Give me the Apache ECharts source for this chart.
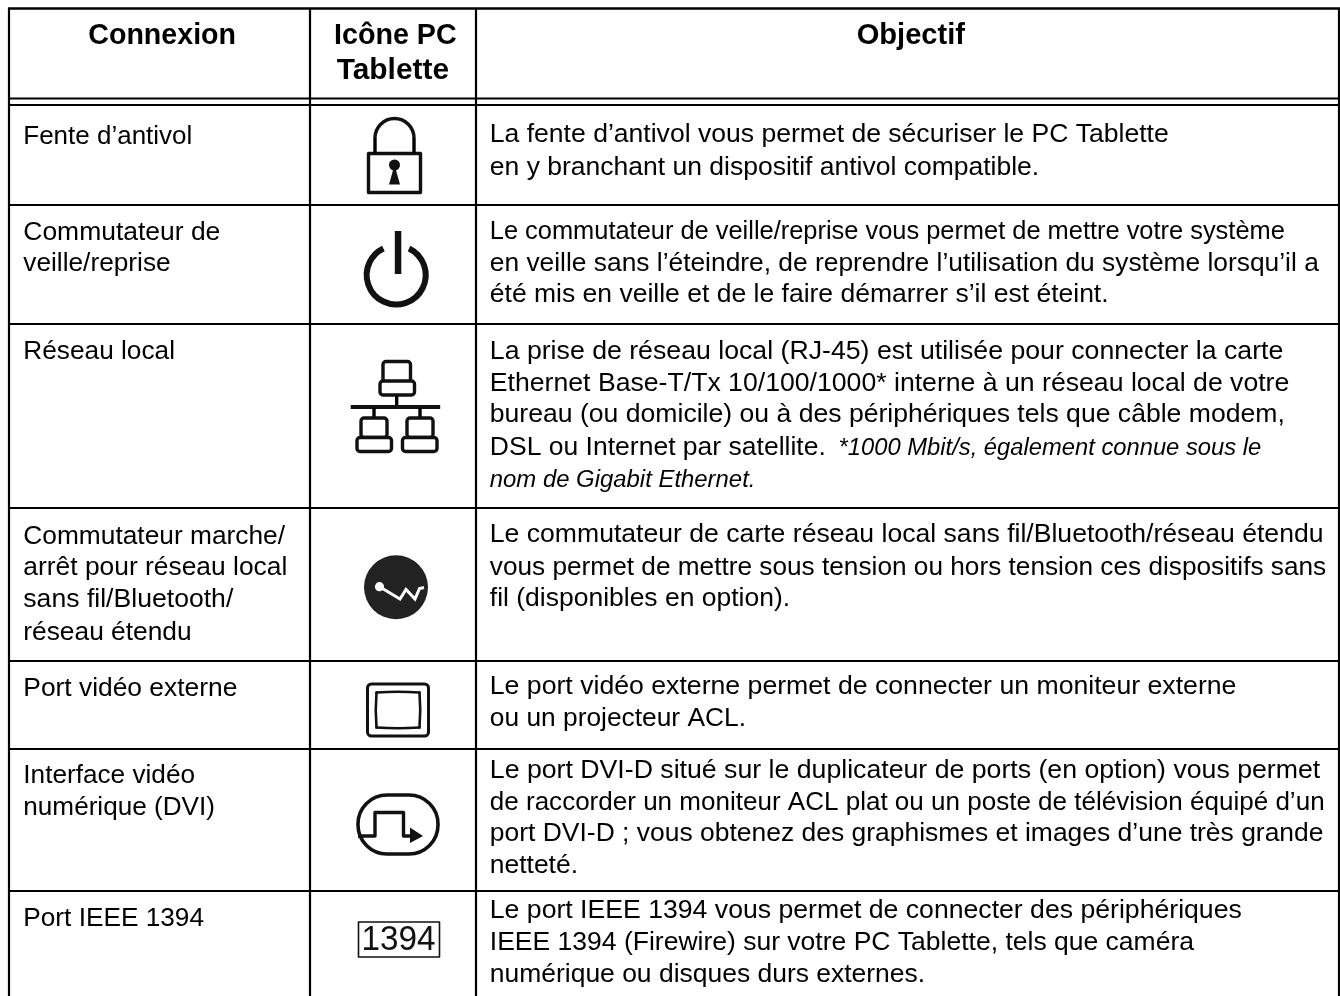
<!DOCTYPE html>
<html><head><meta charset="utf-8">
<style>html,body{margin:0;padding:0;background:#fff}#c{width:1340px;height:996px}</style>
<script src="https://cdn.jsdelivr.net/npm/echarts@6/dist/echarts.min.js"></script>
</head><body><div id="c"></div>
<script>
const headers = ['Connexion', 'Icône PC', 'Tablette', 'Objectif'];
const connexions = [
  ['Fente d’antivol'],
  ['Commutateur de', 'veille/reprise'],
  ['Réseau local'],
  ['Commutateur marche/', 'arrêt pour réseau local', 'sans fil/Bluetooth/', 'réseau étendu'],
  ['Port vidéo externe'],
  ['Interface vidéo', 'numérique (DVI)'],
  ['Port IEEE 1394']
];
const objectifs = [
  ['La fente d’antivol vous permet de sécuriser le PC Tablette', 'en y branchant un dispositif antivol compatible.'],
  ['Le commutateur de veille/reprise vous permet de mettre votre système', 'en veille sans l’éteindre, de reprendre l’utilisation du système lorsqu’il a', 'été mis en veille et de le faire démarrer s’il est éteint.'],
  ['La prise de réseau local (RJ-45) est utilisée pour connecter la carte', 'Ethernet Base-T/Tx 10/100/1000* interne à un réseau local de votre', 'bureau (ou domicile) ou à des périphériques tels que câble modem,', 'DSL ou Internet par satellite.'],
  ['Le commutateur de carte réseau local sans fil/Bluetooth/réseau étendu', 'vous permet de mettre sous tension ou hors tension ces dispositifs sans', 'fil (disponibles en option).'],
  ['Le port vidéo externe permet de connecter un moniteur externe', 'ou un projecteur ACL.'],
  ['Le port DVI-D situé sur le duplicateur de ports (en option) vous permet', 'de raccorder un moniteur ACL plat ou un poste de télévision équipé d’un', 'port DVI-D ; vous obtenez des graphismes et images d’une très grande', 'netteté.'],
  ['Le port IEEE 1394 vous permet de connecter des périphériques', 'IEEE 1394 (Firewire) sur votre PC Tablette, tels que caméra', 'numérique ou disques durs externes.']
];
const footnotes = ['*1000 Mbit/s, également connue sous le', 'nom de Gigabit Ethernet.'];
const iconLabel = '1394';

// layout: baselines and line widths measured on the reference
const F = '"Liberation Sans", Arial, sans-serif';
const colX = [9, 310, 476, 1339];
const rowY = [8.5, 98.5, 105, 205, 324, 508, 661, 749, 891];
const connBase = [[145.5],[241.5,273.3],[361],[545.8,576.5,609,641.5],[697.5],[785,816.5],[927.5]];
const connW = [[169],[197,147.3],[151.7],[261.7,264,210,168.3],[214],[171.7,191.7],[180.7]];
const objBase = [[144.2,176.5],[240.5,272.5,303.8],[360.8,392.5,424.2,456.5],[544.2,576.5,608.2],[695.5,728.2],[779.8,811.5,843.2,874.8],[919.8,952.2,984.2]];
const objW = [[678.9,549.4],[795,829,618.8],[793.5,799.5,795,336],[833.7,836.4,300.3],[746.6,256.2],[830.4,834.8,833.7,88.2],[752,704.2,435.3]];

const measure = document.createElement('canvas').getContext('2d');
const g = [];
const line = (x1, y1, x2, y2, w) => g.push({type:'line', silent:true, shape:{x1,y1,x2,y2}, style:{stroke:'#000', lineWidth:w||2.2}});
// text placed by baseline, squeezed horizontally to the width it has on the reference
const txt = (text, x, base, size, width, style) => {
  const font = `${style?style+' ':''}${size}px ${F}`;
  measure.font = font;
  const natural = measure.measureText(text).width;
  g.push({type:'text', silent:true, x, y: base - 0.3465*size, scaleX: width/natural,
    style:{text, fill:'#000', font, textAlign:'left', textVerticalAlign:'middle'}});
};

// grid
line(colX[0]-1, rowY[0], colX[3]+1, rowY[0], 2.6);
rowY.slice(1).forEach(y => line(colX[0], y, colX[3], y));
colX.forEach(x => line(x, rowY[0], x, 996));

// header
txt(headers[0], 88.3, 46.2, 29, 147.7, 'bold');
txt(headers[1], 334, 46.2, 29, 122.7, 'bold');
txt(headers[2], 336.7, 80.7, 29, 112.3, 'bold');
txt(headers[3], 856.7, 46.2, 29, 108.3, 'bold');

// body
connexions.forEach((ls, r) => ls.forEach((t, i) => txt(t, 23.3, connBase[r][i], 26, connW[r][i])));
objectifs.forEach((ls, r) => ls.forEach((t, i) => txt(t, 489.8, objBase[r][i], 26, objW[r][i])));
txt(footnotes[0], 838.6, 456.5, 23.5, 422.6, 'italic');
txt(footnotes[1], 489.8, 488.8, 23.5, 265.6, 'italic');

// icons
const S = {stroke:'#111', fill:'none', lineJoin:'round', lineCap:'butt'};
const rrect = (x,y,w,h,r,lw,extra) => g.push({type:'rect', silent:true, shape:{x,y,width:w,height:h,r}, style:Object.assign({}, S, {lineWidth:lw}, extra||{})});
const circ = (cx,cy,r,style) => g.push({type:'circle', silent:true, shape:{cx,cy,r}, style});
const poly = (points,lw,extra) => g.push({type:'polyline', silent:true, shape:{points}, style:Object.assign({}, S, {lineWidth:lw}, extra||{})});
const fillPoly = (points,fill) => g.push({type:'polygon', silent:true, shape:{points}, style:{fill, stroke:'none'}});
const curve = (x1,y1,cpx1,cpy1,x2,y2,lw) => g.push({type:'bezierCurve', silent:true, shape:{x1,y1,x2,y2,cpx1,cpy1}, style:{stroke:'#111', fill:'none', lineWidth:lw, lineCap:'round'}});

// lock
rrect(368.5,153.5,52,39,0,3.4);
g.push({type:'arc', silent:true, shape:{cx:394.5,cy:138,r:19.5,startAngle:Math.PI,endAngle:0,clockwise:true}, style:{stroke:'#111',fill:'none',lineWidth:3.4}});
line(375,138,375,153,3.4); line(414,138,414,153,3.4);
circ(394.5,165,5.5,{fill:'#111'});
fillPoly([[394.5,165],[389,184.5],[400,184.5]],'#111');

// power
g.push({type:'arc', silent:true, shape:{cx:396.2,cy:275,r:29.5,startAngle:-Math.PI/2+0.45,endAngle:-Math.PI/2-0.45,clockwise:true},
  style:{stroke:'#111', fill:'none', lineWidth:6}});
g.push({type:'rect',silent:true,shape:{x:394.8,y:231,width:6.5,height:43},style:{fill:'#111'}});

// network
const comp=(mx,my,mw,mh,bx,by,bw,bh)=>{ rrect(mx,my,mw,mh,3,3.4,{fill:'#fff'}); rrect(bx,by,bw,bh,3,3.4,{fill:'#fff'}); };
line(396.7,395,396.7,406,3.4);
g.push({type:'rect',silent:true,shape:{x:350.7,y:405,width:89.5,height:4},style:{fill:'#111'}});
line(374,408,374,418,3.4); line(420,408,420,418,3.4);
comp(383,361.5,27.5,21, 380,381,34.5,14);
comp(361,418,26,19.5, 357,437.5,34.5,14);
comp(407,418,26,19.5, 402.5,437.5,34.5,14);

// wireless toggle
circ(396,587.3,32,{fill:'#222'});
circ(379.5,586.7,4.6,{fill:'#fff'});
poly([[380,587],[400,599],[406,589.5],[415,599],[419.5,588.5],[424,587.5]],3,{stroke:'#fff',lineJoin:'miter'});

// monitor
rrect(367.5,684,61,52,4,3);
curve(376.5,692.5,398,691,419.5,692.5,2.6);
curve(419.5,692.5,421,710,419.5,727.5,2.6);
curve(419.5,727.5,398,729,376.5,727.5,2.6);
curve(376.5,727.5,375,710,376.5,692.5,2.6);

// DVI
rrect(358,795,80,59,29,3.6);
poly([[358,836],[375,836],[375,812.5],[403.5,812.5],[403.5,836],[411,836]],3.4);
fillPoly([[410,827.5],[423,836],[410,843]],'#111');

// 1394
rrect(358.5,922,81,35,0,1.6);
g.push({type:'text',silent:true,x:398.5,y:940,style:{text:iconLabel,font:`35px ${F}`,fill:'#111',textAlign:'center',textVerticalAlign:'middle'},scaleX:0.95});

const chart = echarts.init(document.getElementById('c'), null, {renderer:'canvas'});
chart.setOption({animation:false, backgroundColor:'#fff', graphic:{elements:g}});
</script>
</body></html>
